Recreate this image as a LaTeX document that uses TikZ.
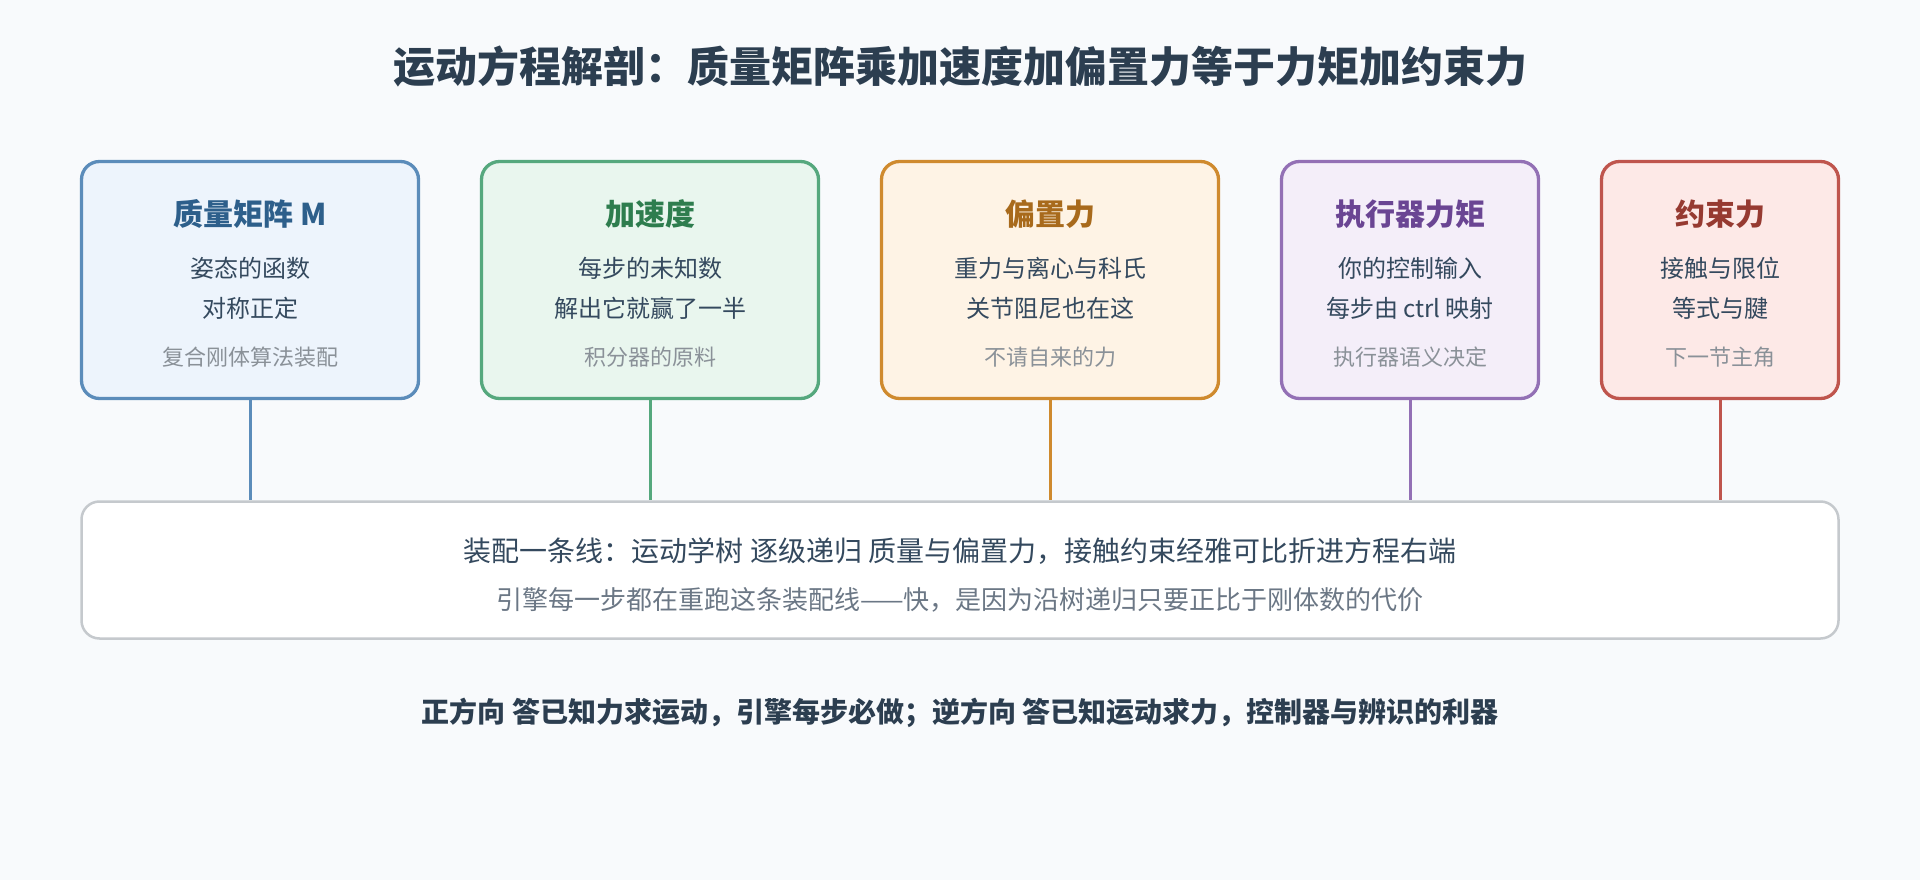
\documentclass[tikz,border=0pt]{standalone}
\usepackage{fontspec}
\setmainfont{Noto Sans CJK SC}
\usepackage{tikz}

\definecolor{pagebg}{HTML}{F8FAFC}
\definecolor{titletext}{HTML}{2C3E50}
\definecolor{bodytext}{HTML}{34495E}
\definecolor{notetext}{HTML}{8A9198}
\definecolor{massline}{HTML}{5B8CBA}
\definecolor{massfill}{HTML}{EDF4FC}
\definecolor{masshead}{HTML}{2D5F8B}
\definecolor{accline}{HTML}{55A87D}
\definecolor{accfill}{HTML}{E9F6EE}
\definecolor{acchead}{HTML}{2E7D4E}
\definecolor{biasline}{HTML}{CF8A2E}
\definecolor{biasfill}{HTML}{FEF3E5}
\definecolor{biashead}{HTML}{A86A1C}
\definecolor{tauline}{HTML}{9370B5}
\definecolor{taufill}{HTML}{F4EEF9}
\definecolor{tauhead}{HTML}{6A4593}
\definecolor{conline}{HTML}{BF554D}
\definecolor{confill}{HTML}{FDE9E7}
\definecolor{conhead}{HTML}{963A31}
\definecolor{barline}{HTML}{C5C9CD}
\definecolor{barsub}{HTML}{6B7785}

\begin{document}
\begin{tikzpicture}[x=1pt,y=-1pt]
\tikzstyle{card}=[rectangle,draw,rounded corners=18pt,line width=3.3pt,minimum height=237pt,inner sep=0pt]
\tikzstyle{head}=[font=\bfseries\fontsize{30}{36}\selectfont]
\tikzstyle{body}=[font=\fontsize{24}{30}\selectfont,text=bodytext]
\tikzstyle{note}=[font=\fontsize{22}{26}\selectfont,text=notetext]
\tikzstyle{link}=[line width=3pt]

\fill[pagebg] (0,0) rectangle (1920,880);
\node[font=\bfseries\fontsize{42}{50}\selectfont,text=titletext] (title) at (960,66) {运动方程解剖：质量矩阵乘加速度加偏置力等于力矩加约束力};

\node[card,draw=massline,fill=massfill,minimum width=337pt] (mass) at (250,280) {};
\node[head,text=masshead] (massT) at (250,214) {质量矩阵 M};
\node[body] (massA) at (250,268) {姿态的函数};
\node[body] (massB) at (250,308) {对称正定};
\node[note] (massC) at (250,357) {复合刚体算法装配};

\node[card,draw=accline,fill=accfill,minimum width=337pt] (acc) at (650,280) {};
\node[head,text=acchead] (accT) at (650,214) {加速度};
\node[body] (accA) at (650,268) {每步的未知数};
\node[body] (accB) at (650,308) {解出它就赢了一半};
\node[note] (accC) at (650,357) {积分器的原料};

\node[card,draw=biasline,fill=biasfill,minimum width=337pt] (bias) at (1050,280) {};
\node[head,text=biashead] (biasT) at (1050,214) {偏置力};
\node[body] (biasA) at (1050,268) {重力与离心与科氏};
\node[body] (biasB) at (1050,308) {关节阻尼也在这};
\node[note] (biasC) at (1050,357) {不请自来的力};

\node[card,draw=tauline,fill=taufill,minimum width=257pt] (tau) at (1410,280) {};
\node[head,text=tauhead] (tauT) at (1410,214) {执行器力矩};
\node[body] (tauA) at (1410,268) {你的控制输入};
\node[body] (tauB) at (1410,308) {每步由 ctrl 映射};
\node[note] (tauC) at (1410,357) {执行器语义决定};

\node[card,draw=conline,fill=confill,minimum width=237pt] (con) at (1720,280) {};
\node[head,text=conhead] (conT) at (1720,214) {约束力};
\node[body] (conA) at (1720,268) {接触与限位};
\node[body] (conB) at (1720,308) {等式与腱};
\node[note] (conC) at (1720,357) {下一节主角};

\node[card,draw=barline,fill=white,line width=2.5pt,minimum width=1757pt,minimum height=137pt] (bar) at (960,570) {};
\node[font=\fontsize{28}{34}\selectfont,text=bodytext] (barA) at (960,551) {装配一条线：运动学树 逐级递归 质量与偏置力，接触约束经雅可比折进方程右端};
\node[font=\fontsize{26}{32}\selectfont,text=barsub] (barB) at (960,600) {引擎每一步都在重跑这条装配线——快，是因为沿树递归只要正比于刚体数的代价};

\draw[link,massline] (mass.south) -- (mass.south |- bar.north);
\draw[link,accline] (acc.south) -- (acc.south |- bar.north);
\draw[link,biasline] (bias.south) -- (bias.south |- bar.north);
\draw[link,tauline] (tau.south) -- (tau.south |- bar.north);
\draw[link,conline] (con.south) -- (con.south |- bar.north);

\node[font=\bfseries\fontsize{28}{34}\selectfont,text=titletext] (motto) at (960,713) {正方向 答已知力求运动，引擎每步必做；逆方向 答已知运动求力，控制器与辨识的利器};
\end{tikzpicture}
\end{document}
